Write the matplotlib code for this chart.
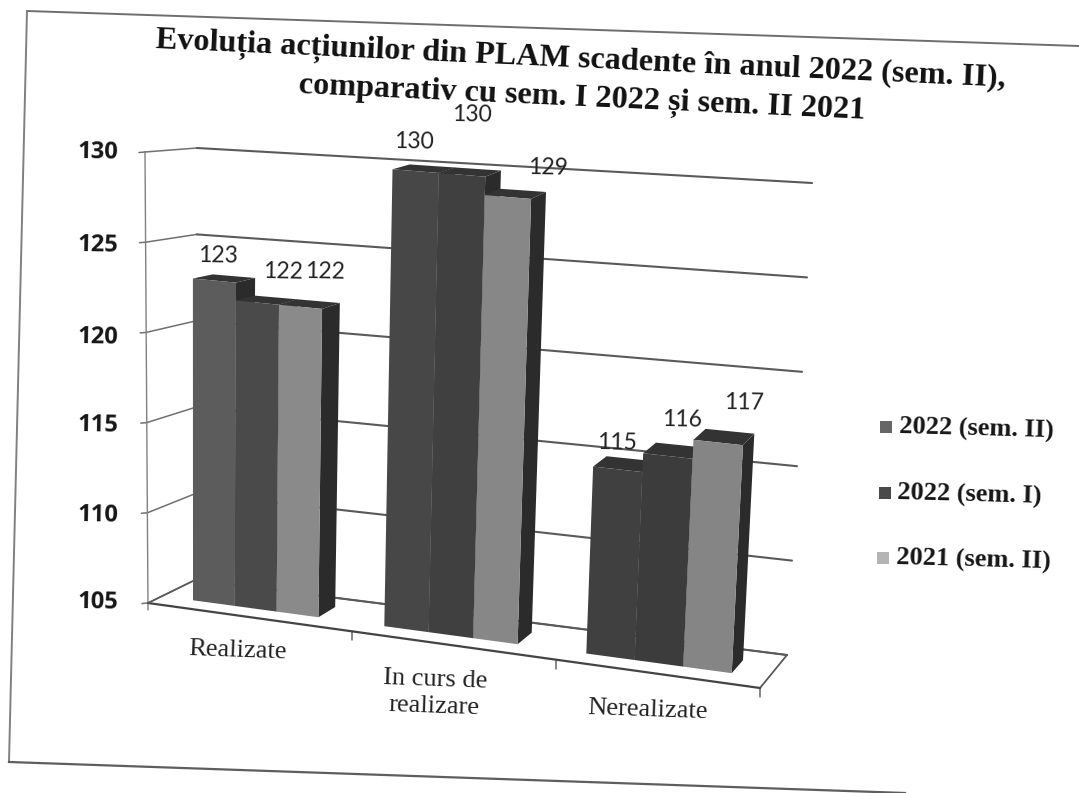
import matplotlib
matplotlib.use("Agg")
import matplotlib.pyplot as plt
from matplotlib.patches import Polygon, Rectangle
import numpy as np

categories = ["Realizate", "In curs de\nrealizare", "Nerealizate"]
series_names = ["2022 (sem. II)", "2022 (sem. I)", "2021 (sem. II)"]
sem2_2022 = [123, 130, 115]
sem1_2022 = [122, 130, 116]
sem2_2021 = [122, 129, 117]
value_ticks = [105, 110, 115, 120, 125, 130]
title_lines = ["Evoluția acțiunilor din PLAM scadente în anul 2022 (sem. II),",
               "comparativ cu sem. I 2022 și sem. II 2021"]

series = [sem2_2022, sem1_2022, sem2_2021]
front_cols = [["#5c5c5c", "#4a4a4a", "#8a8a8a"],
              ["#474747", "#404040", "#878787"],
              ["#404040", "#3c3c3c", "#858585"]]
side_col = "#2b2b2b"

W, H = 1079, 793
fig = plt.figure(figsize=(W / 100, H / 100), dpi=100, facecolor="#ffffff")
ax = fig.add_axes([0, 0, 1, 1])
ax.set_xlim(0, W)
ax.set_ylim(H, 0)
ax.axis("off")

# corners of the drawn box: (category pos, depth, value) -> picture position
FL0, FL1 = np.array([148, 603.]), np.array([145, 152.])
FR0, FR1 = np.array([760, 688.]), np.array([785, 209.])
BL0, BL1 = np.array([195, 580.]), np.array([197, 148.])
BR0, BR1 = np.array([787, 655.]), np.array([812, 183.])
VMIN, VMAX = value_ticks[0], value_ticks[-1]


def project(x, d, v):
    tx, tv = x / len(categories), (v - VMIN) / (VMAX - VMIN)
    front = (1 - tx) * ((1 - tv) * FL0 + tv * FL1) + tx * ((1 - tv) * FR0 + tv * FR1)
    back = (1 - tx) * ((1 - tv) * BL0 + tv * BL1) + tx * ((1 - tv) * BR0 + tv * BR1)
    return (1 - d) * front + d * back


def seg(p, q, color="#5a5a5a", lw=1.3, z=1):
    ax.plot([p[0], q[0]], [p[1], q[1]], color=color, lw=lw, zorder=z, solid_capstyle="round")


# gridlines on the left wall and back wall
for v in value_ticks:
    a, b, c = project(0, 0, v), project(0, 1, v), project(3, 1, v)
    seg(a, b, color="#707070", lw=1.1)
    seg(b, c, lw=1.5)
    seg(a + [-6, 0.5], a, color="#707070", lw=1.1)

# axes and floor
seg(project(0, 0, VMIN) + [0, 7], project(0, 0, VMAX), color="#808080", lw=1.0)
seg(project(3, 0, VMIN), project(3, 1, VMIN), lw=1.3)
for i in range(1, 4):
    p = project(i, 0, VMIN)
    seg(p, p + [0, 9], color="#666666", lw=1.1)

# bars
GROUP_LEFT = [0.153, 0.10, 0.10]
BAR_W = [0.207, 0.22, 0.24]
D0, D1 = 0.3, 0.7
for g in range(len(categories)):
    for s, vals in enumerate(series):
        v = vals[g]
        x0 = g + GROUP_LEFT[g] + s * BAR_W[g]
        x1 = x0 + BAR_W[g]
        z = 3 + g * 3 + s * 0.1
        f00, f10, f11, f01 = (project(x0, D0, VMIN), project(x1, D0, VMIN),
                              project(x1, D0, v), project(x0, D0, v))
        b10, b11, b01 = project(x1, D1, VMIN), project(x1, D1, v), project(x0, D1, v)
        ax.add_patch(Polygon([f10, b10, b11, f11], fc=side_col, ec="none", zorder=z))
        ax.add_patch(Polygon([f01, f11, b11, b01], fc="#333333", ec="none", zorder=z))
        ax.add_patch(Polygon([f00, f10, f11, f01], fc=front_cols[g][s], ec="none", zorder=z + 0.01))
seg(project(0, 0, VMIN), project(3, 0, VMIN), color="#444444", lw=1.6, z=2)
seg(project(0, 1, VMIN), project(3, 1, VMIN), lw=1.2, z=2)
seg(project(0, 0, VMIN), project(0, 1, VMIN), lw=1.2, z=2)

# scanned page frame
ax.plot([27, 1079], [11, 46], color="#6e6e6e", lw=1.4, zorder=1)
ax.plot([27, 9], [11, 762], color="#808080", lw=1.4, zorder=1)
ax.plot([9, 905], [762, 793], color="#5e5e5e", lw=1.6, zorder=1)

ROT = -2.6
serif = "Liberation Serif"
# title
ax.text(581, 60, title_lines[0], family=serif, weight="bold", fontsize=23.2, color="#111111",
        rotation=ROT, rotation_mode="anchor", ha="center", va="center")
ax.text(582, 99, title_lines[1], family=serif, weight="bold", fontsize=23.2, color="#111111",
        rotation=ROT, rotation_mode="anchor", ha="center", va="center")

# value axis labels
tick_label_y = [602, 515, 425, 337, 245, 152]
for v, y in zip(value_ticks, tick_label_y):
    ax.text(98, y, str(v), family="Open Sans", weight="bold", fontsize=17, color="#161616",
            ha="center", va="center", rotation=-1)

# data labels
label_xy = [[(218, 256), (283, 272), (325, 272)],
            [(414, 142), (472, 115), (548, 168)],
            [(617, 443), (682, 420), (744, 403)]]
for g in range(3):
    for s, vals in enumerate(series):
        x, y = label_xy[g][s]
        ax.text(x, y, str(vals[g]), family="Lato", fontsize=16.5, color="#222222",
                ha="center", va="center", rotation=-1)

# category labels
cat_xy = [(238, 651), (435, 693), (648, 710)]
for name, (x, y) in zip(categories, cat_xy):
    ax.text(x, y, name, family=serif, fontsize=19, color="#222222", ha="center", va="center",
            rotation=-2, linespacing=1.3, multialignment="center")

# legend
leg_y = [427, 493, 558]
leg_x = [899, 897, 896]
sq_x = [886, 885, 883]
leg_cols = ["#666666", "#4a4a4a", "#b5b5b5"]
for name, x, y, sx, c in zip(series_names, leg_x, leg_y, sq_x, leg_cols):
    ax.add_patch(Rectangle((sx - 6, y - 6), 12, 12, fc=c, ec="none", zorder=3))
    ax.text(x, y, name, family=serif, weight="bold", fontsize=19, color="#161616",
            ha="left", va="center", rotation=-1.5, rotation_mode="anchor")

fig.savefig("out.png", dpi=100, facecolor=fig.get_facecolor())
